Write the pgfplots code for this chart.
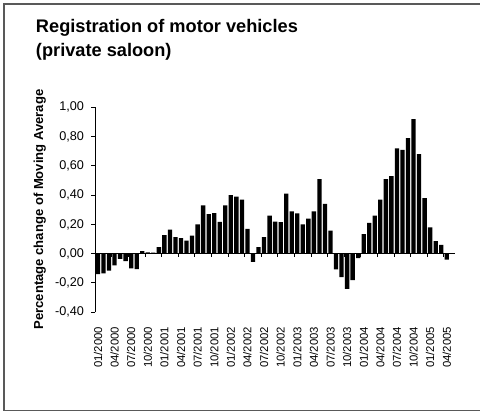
\documentclass[border=0pt]{standalone}
\usepackage{pgfplots}
\pgfplotsset{compat=1.18}
\usepackage{fontspec}
\setmainfont{Liberation Sans}
\begin{document}
\begin{tikzpicture}
\useasboundingbox (0,0) rectangle (360pt,309pt);
\draw[black!65, line width=0.9pt] (3pt,1pt) rectangle (364pt,306pt);
\node[anchor=base west, font=\fontsize{13.65}{16}\selectfont\bfseries, inner sep=0pt] at (26.8pt,284.8pt) {Registration of motor vehicles};
\node[anchor=base west, font=\fontsize{13.65}{16}\selectfont\bfseries, inner sep=0pt] at (26.8pt,266.5pt) {(private saloon)};
\node[rotate=90, anchor=base, font=\fontsize{9.8}{12}\selectfont\bfseries, inner sep=0pt] at (32.25pt,151.9pt) {Percentage change of Moving Average};
\begin{axis}[
  at={(71.4pt,74.8pt)}, anchor=south west,
  scale only axis, width=269.9pt, height=153.7pt,
  xmin=0.5, xmax=65.5, ymin=-0.4, ymax=1.0,
  ytick={-0.4,-0.2,0,0.2,0.4,0.6,0.8,1.0},
  xtick={1,4,7,10,13,16,19,22,25,28,31,34,37,40,43,46,49,52,55,58,61,64},
  xticklabels={01/2000,04/2000,07/2000,10/2000,01/2001,04/2001,07/2001,10/2001,01/2002,04/2002,07/2002,10/2002,01/2003,04/2003,07/2003,10/2003,01/2004,04/2004,07/2004,10/2004,01/2005,04/2005},
  axis y line*=left, axis x line*=bottom,
  x axis line style={draw=none},
  y axis line style={black, line width=0.75pt, -},
  xtick style={draw=none},
  ytick style={black, line width=0.75pt},
  tick align=outside, major tick length=3pt,
  yticklabel style={font=\fontsize{9.5}{11}\selectfont, inner sep=0pt,
    /pgf/number format/fixed, /pgf/number format/fixed zerofill,
    /pgf/number format/precision=2, /pgf/number format/use comma,
    /pgf/number format/assume math mode=true},
  yticklabel shift=5.2pt,
  xticklabel style={font=\fontsize{8.5}{10}\selectfont, rotate=90, anchor=east, inner sep=0pt},
  xticklabel shift=7.8pt,
  ybar, bar width=0.78, bar shift=0pt,
  clip=false,
]
\addplot[fill=black, draw=none] coordinates {
(1,-0.14) (2,-0.135) (3,-0.115) (4,-0.08) (5,-0.035) (6,-0.05) (7,-0.10) (8,-0.105)
(9,0.018) (10,0.010) (11,0.007) (12,0.045) (13,0.127) (14,0.164) (15,0.114) (16,0.107)
(17,0.09) (18,0.123) (19,0.20) (20,0.33) (21,0.27) (22,0.277) (23,0.218) (24,0.33)
(25,0.40) (26,0.39) (27,0.37) (28,0.17) (29,-0.055) (30,0.045) (31,0.114) (32,0.26)
(33,0.22) (34,0.216) (35,0.41) (36,0.29) (37,0.275) (38,0.20) (39,0.24) (40,0.29)
(41,0.51) (42,0.34) (43,0.157) (44,-0.107) (45,-0.16) (46,-0.24) (47,-0.18) (48,-0.03)
(49,0.134) (50,0.21) (51,0.26) (52,0.37) (53,0.51) (54,0.53) (55,0.72) (56,0.71)
(57,0.79) (58,0.92) (59,0.68) (60,0.38) (61,0.18) (62,0.086) (63,0.06) (64,-0.04)
};
\draw[black, line width=0.75pt] (axis cs:0.5,0) -- (axis cs:65.5,0);
\pgfplotsinvokeforeach{3.5,6.5,9.5,12.5,15.5,18.5,21.5,24.5,27.5,30.5,33.5,36.5,39.5,42.5,45.5,48.5,51.5,54.5,57.5,60.5,63.5}{
  \draw[black, line width=0.75pt] (axis cs:#1,0) -- ++(0pt,-2.5pt);
}
\end{axis}
\end{tikzpicture}
\end{document}
